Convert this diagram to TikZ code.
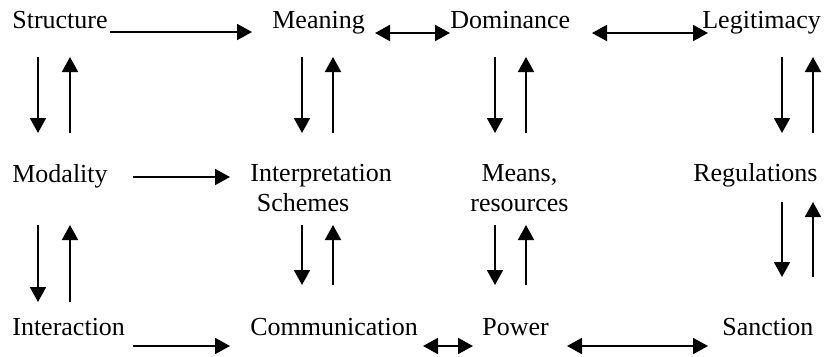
\documentclass[tikz,border=0pt]{standalone}
\usepackage{fontspec}
\setmainfont{Liberation Serif}
\usetikzlibrary{arrows.meta}

\tikzset{
  lbl/.style={inner sep=0pt, font=\fontsize{14.8pt}{17.1pt}\selectfont},
  arr/.style={line width=1.1pt, -{Triangle[length=0.3cm, width=0.32cm]}},
  darr/.style={line width=1.1pt, {Triangle[length=0.3cm, width=0.32cm]}-{Triangle[length=0.3cm, width=0.32cm]}}
}

\begin{document}
\begin{tikzpicture}[x=0.02cm, y=-0.02cm]
\useasboundingbox (0,0) rectangle (825,356);

% Top row
\node[lbl, anchor=base west] (structure)  at (12,28)  {Structure};
\node[lbl, anchor=base west] (meaning)    at (272,28) {Meaning};
\node[lbl, anchor=base west] (dominance)  at (450,28) {Dominance};
\node[lbl, anchor=base west] (legitimacy) at (702,28) {Legitimacy};

% Middle row
\node[lbl, anchor=base west] (modality) at (12,182) {Modality};
\node[lbl, anchor=north west, align=left] (interp) at (250,164) {Interpretation\\\hspace*{0.25em}Schemes};
\node[lbl, anchor=north west, align=center] (means) at (470,164) {Means,\\resources};
\node[lbl, anchor=base west] (regulations) at (693,181) {Regulations};

% Bottom row
\node[lbl, anchor=base west] (interaction)   at (12,335)  {Interaction};
\node[lbl, anchor=base west] (communication) at (250,335) {Communication};
\node[lbl, anchor=base west] (power)         at (482,335) {Power};
\node[lbl, anchor=base west] (sanction)      at (722,335) {Sanction};

% Horizontal links, top row
\draw[arr]  ([shift={(98,4)}]structure.base west) -- ([shift={(-20,4)}]meaning.base west);
\draw[darr] ([shift={(103,5)}]meaning.base west) -- ([shift={(0,5)}]dominance.base west);
\draw[darr] ([shift={(142,5)}]dominance.base west) -- ([shift={(6,5)}]legitimacy.base west);

% Horizontal link, middle row
\draw[arr]  ([shift={(121,-5)}]modality.base west) -- ([shift={(-20,13)}]interp.north west);

% Horizontal links, bottom row
\draw[arr]  ([shift={(121,11)}]interaction.base west) -- ([shift={(-20,11)}]communication.base west);
\draw[darr] ([shift={(173,11)}]communication.base west) -- ([shift={(-9,11)}]power.base west);
\draw[darr] ([shift={(85,11)}]power.base west) -- ([shift={(-14,11)}]sanction.base west);

% Vertical pairs, top to middle
\draw[arr] ([shift={(26,29)}]structure.base west) -- ([shift={(26,-49)}]modality.base west);
\draw[arr] ([shift={(58,-49)}]modality.base west) -- ([shift={(58,29)}]structure.base west);
\draw[arr] ([shift={(30,29)}]meaning.base west) -- ([shift={(52,-31)}]interp.north west);
\draw[arr] ([shift={(83,-31)}]interp.north west) -- ([shift={(61,29)}]meaning.base west);
\draw[arr] ([shift={(45,29)}]dominance.base west) -- ([shift={(25,-31)}]means.north west);
\draw[arr] ([shift={(56,-31)}]means.north west) -- ([shift={(76,29)}]dominance.base west);
\draw[arr] ([shift={(80,29)}]legitimacy.base west) -- ([shift={(89,-48)}]regulations.base west);
\draw[arr] ([shift={(120,-48)}]regulations.base west) -- ([shift={(111,29)}]legitimacy.base west);

% Vertical pairs, middle to bottom
\draw[arr] ([shift={(26,43)}]modality.base west) -- ([shift={(26,-33)}]interaction.base west);
\draw[arr] ([shift={(58,-33)}]interaction.base west) -- ([shift={(58,43)}]modality.base west);
\draw[arr] ([shift={(52,61)}]interp.north west) -- ([shift={(52,-50)}]communication.base west);
\draw[arr] ([shift={(83,-50)}]communication.base west) -- ([shift={(83,61)}]interp.north west);
\draw[arr] ([shift={(25,61)}]means.north west) -- ([shift={(13,-50)}]power.base west);
\draw[arr] ([shift={(44,-50)}]power.base west) -- ([shift={(56,61)}]means.north west);
\draw[arr] ([shift={(89,21)}]regulations.base west) -- ([shift={(60,-58)}]sanction.base west);
\draw[arr] ([shift={(91,-58)}]sanction.base west) -- ([shift={(120,21)}]regulations.base west);

\end{tikzpicture}
\end{document}
